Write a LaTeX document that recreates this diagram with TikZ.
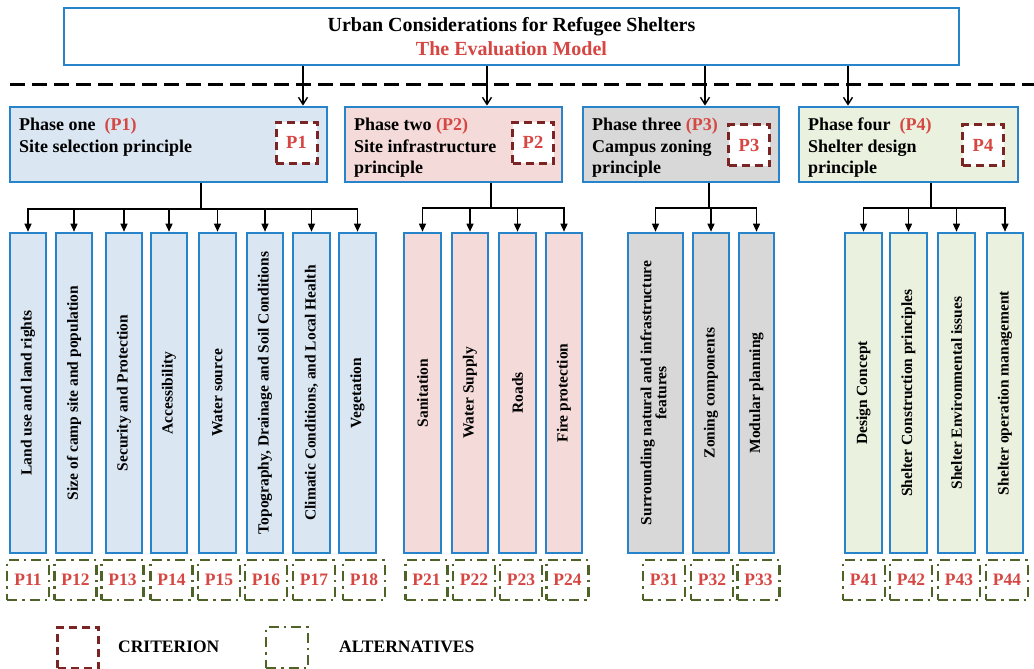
\documentclass[tikz,border=0pt]{standalone}
\usepackage{fontspec}
\setmainfont{Liberation Serif}
\usetikzlibrary{arrows.meta}
\definecolor{bord}{RGB}{40,132,202}
\definecolor{fone}{RGB}{218,230,242}
\definecolor{ftwo}{RGB}{244,219,218}
\definecolor{fthree}{RGB}{216,216,216}
\definecolor{ffour}{RGB}{234,241,222}
\definecolor{redt}{RGB}{214,70,66}
\definecolor{crit}{RGB}{122,36,36}
\definecolor{alt}{RGB}{79,98,40}
\tikzset{
  phase/.style={draw=bord, line width=2.8pt, inner sep=0pt},
  colbox/.style={draw=bord, line width=2.6pt, inner sep=0pt, minimum height=320pt,
    font=\fontsize{15.5}{17}\selectfont\bfseries},
  critbox/.style={draw=crit, line width=3pt, dash pattern=on 8pt off 5pt,
    fill=white, minimum width=41pt, minimum height=41pt, inner sep=0pt,
    text=redt, font=\fontsize{18.5}{20}\selectfont\bfseries},
  altbox/.style={draw=alt, line width=2.8pt, dash pattern=on 10pt off 5pt on 2.5pt off 5pt,
    minimum width=42pt, minimum height=40pt, inner sep=0pt,
    text=redt, font=\fontsize{17.5}{19}\selectfont\bfseries},
  ptext/.style={anchor=base west, inner sep=0pt, font=\fontsize{18}{20}\selectfont\bfseries},
  arrt/.style={line width=1.4pt, -{Straight Barb[length=7pt,width=9pt]}},
  arrc/.style={line width=1.4pt, -{Triangle[length=8pt,width=7pt]}},
  stem/.style={line width=1.4pt},
  legtext/.style={anchor=west, inner sep=0pt, font=\fontsize{17.5}{19}\selectfont\bfseries}
}
\begin{document}
\begin{tikzpicture}[x=1pt,y=1pt]
\useasboundingbox (0,0) rectangle (1034,-669);

% title
\node[draw=bord, line width=2.8pt, fill=white, minimum width=895pt, minimum height=57pt,
  inner sep=0pt, align=center, font=\fontsize{20}{24}\selectfont\bfseries]
  (title) at (511.5,-36.5) {Urban Considerations for Refugee Shelters\\\textcolor{redt}{The Evaluation Model}};

% separator
\coordinate (dl) at (10,-85);
\coordinate (dr) at (1034,-85);
\draw[line width=3pt, dash pattern=on 15pt off 7pt] (dl) -- (dr);

% phase boxes
\node[phase, fill=fone, minimum width=317pt, minimum height=75pt] (ph1) at (168.5,-144.5) {};
\node[phase, fill=ftwo, minimum width=217pt, minimum height=75pt] (ph2) at (453.5,-144.5) {};
\node[phase, fill=fthree, minimum width=196pt, minimum height=75pt] (ph3) at (681,-144.5) {};
\node[phase, fill=ffour, minimum width=219pt, minimum height=75pt] (ph4) at (908.5,-144.5) {};

\node[ptext] (pt1a) at (19,-130) {Phase one\ \ \textcolor{redt}{(P1)}};
\node[ptext] (pt1b) at (19,-152) {Site selection principle};
\node[ptext] (pt2a) at (354,-130) {Phase two \textcolor{redt}{(P2)}};
\node[ptext] (pt2b) at (354,-152) {Site infrastructure};
\node[ptext] (pt2c) at (354,-173) {principle};
\node[ptext] (pt3a) at (592,-130) {Phase three \textcolor{redt}{(P3)}};
\node[ptext] (pt3b) at (592,-152) {Campus zoning};
\node[ptext] (pt3c) at (592,-173) {principle};
\node[ptext] (pt4a) at (808,-130) {Phase four\ \ \textcolor{redt}{(P4)}};
\node[ptext] (pt4b) at (808,-152) {Shelter design};
\node[ptext] (pt4c) at (808,-173) {principle};

\node[critbox] (cr1) at (296.5,-142.5) {P1};
\node[critbox] (cr2) at (533,-142.5) {P2};
\node[critbox] (cr3) at (749,-145) {P3};
\node[critbox] (cr4) at (983,-145) {P4};

% top arrows
\coordinate (k1) at (303,0);
\coordinate (k2) at (487,0);
\coordinate (k3) at (705,0);
\coordinate (k4) at (848,0);
\draw[arrt] (title.south -| k1) -- (ph1.north -| k1);
\draw[arrt] (title.south -| k2) -- (ph2.north -| k2);
\draw[arrt] (title.south -| k3) -- (ph3.north -| k3);
\draw[arrt] (title.south -| k4) -- (ph4.north -| k4);

% columns phase 1
\node[colbox, fill=fone, minimum width=36pt] (c11) at (28,-393) {\rotatebox{90}{Land use and land rights}};
\node[colbox, fill=fone, minimum width=36pt] (c12) at (74,-393) {\rotatebox{90}{Size of camp site and population}};
\node[colbox, fill=fone, minimum width=36pt] (c13) at (124,-393) {\rotatebox{90}{Security and Protection}};
\node[colbox, fill=fone, minimum width=36pt] (c14) at (169,-393) {\rotatebox{90}{Accessibility}};
\node[colbox, fill=fone, minimum width=37pt] (c15) at (217.5,-393) {\rotatebox{90}{Water source}};
\node[colbox, fill=fone, minimum width=36pt] (c16) at (265,-393) {\rotatebox{90}{Topography, Drainage and Soil Conditions}};
\node[colbox, fill=fone, minimum width=37pt] (c17) at (311.5,-393) {\rotatebox{90}{Climatic Conditions, and Local Health}};
\node[colbox, fill=fone, minimum width=37pt] (c18) at (357.5,-393) {\rotatebox{90}{Vegetation}};
% phase 2
\node[colbox, fill=ftwo, minimum width=37pt] (c21) at (422.5,-393) {\rotatebox{90}{Sanitation}};
\node[colbox, fill=ftwo, minimum width=36pt] (c22) at (470,-393) {\rotatebox{90}{Water Supply}};
\node[colbox, fill=ftwo, minimum width=37pt] (c23) at (517.5,-393) {\rotatebox{90}{Roads}};
\node[colbox, fill=ftwo, minimum width=36pt] (c24) at (564,-393) {\rotatebox{90}{Fire protection}};
% phase 3
\node[colbox, fill=fthree, minimum width=55pt] (c31) at (655.5,-393) {\rotatebox{90}{\begin{tabular}{@{}c@{}}Surrounding natural and infrastructure\\[-2pt]features\end{tabular}}};
\node[colbox, fill=fthree, minimum width=36pt] (c32) at (711,-393) {\rotatebox{90}{Zoning components}};
\node[colbox, fill=fthree, minimum width=35pt] (c33) at (756.5,-393) {\rotatebox{90}{Modular planning}};
% phase 4
\node[colbox, fill=ffour, minimum width=37pt] (c41) at (863.5,-393) {\rotatebox{90}{Design Concept}};
\node[colbox, fill=ffour, minimum width=37pt] (c42) at (908.5,-393) {\rotatebox{90}{Shelter Construction principles}};
\node[colbox, fill=ffour, minimum width=37pt] (c43) at (956.5,-393) {\rotatebox{90}{Shelter Environmental issues}};
\node[colbox, fill=ffour, minimum width=36pt] (c44) at (1005,-393) {\rotatebox{90}{Shelter operation management}};

% buses
\coordinate (s1) at (201,-209);
\coordinate (s2) at (491,-208);
\coordinate (s3) at (709,-208);
\coordinate (s4) at (931,-208);
\draw[stem] (ph1.south -| s1) -- (s1);
\draw[stem] (ph2.south -| s2) -- (s2);
\draw[stem] (ph3.south -| s3) -- (s3);
\draw[stem] (ph4.south -| s4) -- (s4);
\foreach \c in {c11,c12,c13,c14,c15,c16,c17,c18} \draw[arrc] (s1) -| (\c.north);
\foreach \c in {c21,c22,c23,c24} \draw[arrc] (s2) -| (\c.north);
\foreach \c in {c31,c32,c33} \draw[arrc] (s3) -| (\c.north);
\foreach \c in {c41,c42,c43,c44} \draw[arrc] (s4) -| (\c.north);

% alternatives
\node[altbox] (a11) at (28,-580) {P11};
\node[altbox] (a12) at (75.5,-580) {P12};
\node[altbox] (a13) at (122.5,-580) {P13};
\node[altbox] (a14) at (171.5,-580) {P14};
\node[altbox] (a15) at (219,-580) {P15};
\node[altbox] (a16) at (266,-580) {P16};
\node[altbox] (a17) at (314,-580) {P17};
\node[altbox] (a18) at (364,-580) {P18};
\node[altbox] (a21) at (426.5,-580) {P21};
\node[altbox] (a22) at (474,-580) {P22};
\node[altbox] (a23) at (521,-580) {P23};
\node[altbox] (a24) at (567.5,-580) {P24};
\node[altbox] (a31) at (664,-580) {P31};
\node[altbox] (a32) at (712,-580) {P32};
\node[altbox] (a33) at (758.5,-580) {P33};
\node[altbox] (a41) at (864,-580) {P41};
\node[altbox] (a42) at (911,-580) {P42};
\node[altbox] (a43) at (959,-580) {P43};
\node[altbox] (a44) at (1007,-580) {P44};

% legend
\node[critbox] (lcrit) at (78,-647.5) {};
\node[legtext] (lcritt) at (118,-647) {CRITERION};
\node[altbox, minimum height=41pt] (lalt) at (287,-647.5) {};
\node[legtext] (laltt) at (339,-647) {ALTERNATIVES};
\end{tikzpicture}
\end{document}
